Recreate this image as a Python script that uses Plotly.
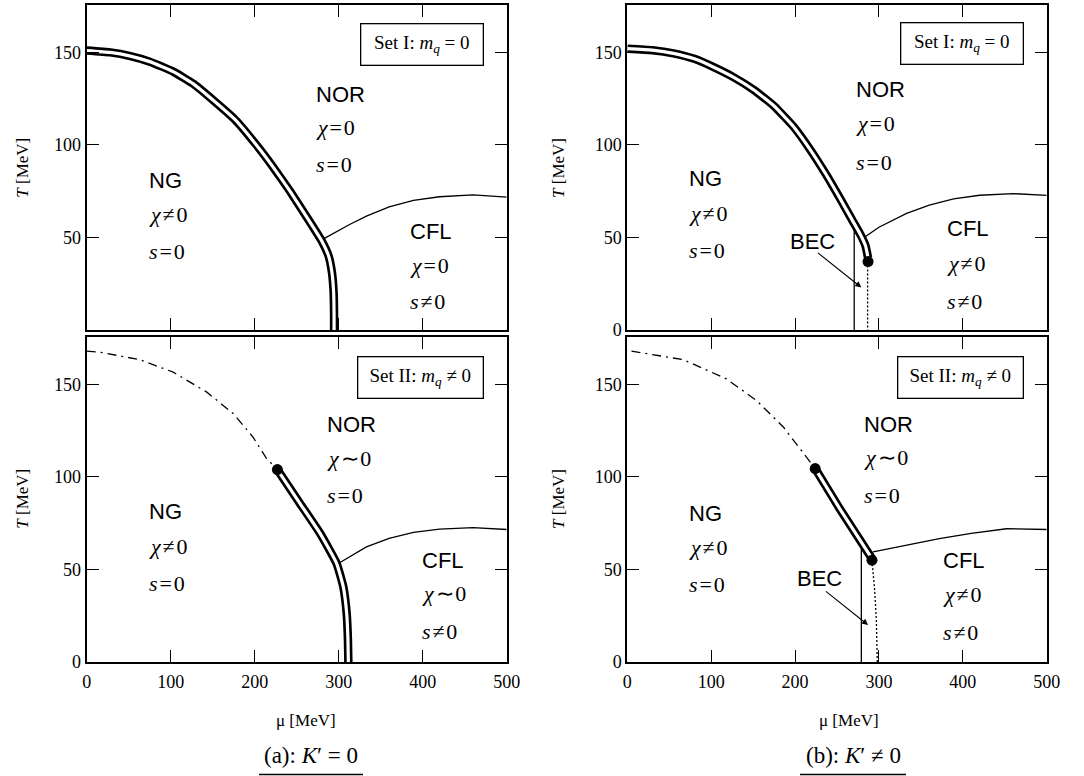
import plotly.graph_objects as go

# ---------------- data ----------------
# (a) K'=0, Set I : first-order line and NOR/CFL boundary
mu_a1_first = [0, 28, 52, 75, 103, 127, 151, 177, 202, 222, 242, 262, 280, 288, 292, 294, 294.5, 294.5]
T_a1_first = [151, 150, 148, 145, 139.6, 133, 124, 113.5, 100, 88, 75, 61, 48, 40, 31, 20, 8, 0]
mu_a1_cfl = [283, 313, 333, 360, 389, 420, 460, 500]
T_a1_cfl = [49.5, 57, 61.5, 66.5, 70, 72, 73, 71.8]

# (b) K'!=0, Set I
mu_b1_first = [0, 30, 55, 80, 103, 127, 151, 175, 198, 218, 237, 255, 268, 278, 284, 287]
T_b1_first = [152, 151.2, 149.5, 146.5, 142, 136.5, 129.7, 121, 110, 97.5, 84, 70, 59.5, 51.5, 45.5, 39]
mu_b1_cfl = [284, 300, 333, 360, 389, 420, 460, 500]
T_b1_cfl = [50.5, 55.5, 63, 67.5, 70.8, 72.8, 73.7, 72.7]
mu_b1_end = [287]
T_b1_end = [37]
mu_b1_bec = [270.5, 270.5]
T_b1_bec = [0, 56]
mu_b1_dot = [286.5, 286.5]
T_b1_dot = [37, 0]

# (a) K'=0, Set II
mu_a2_cross = [0, 16, 63.5, 103, 143, 175, 198, 214, 227]
T_a2_cross = [168, 167.4, 163.3, 156.6, 145.8, 134, 121.5, 110, 104]
mu_a2_first = [227, 254, 278, 297.6, 305.5, 309.5, 311, 311.5]
T_a2_first = [104, 85.6, 69.4, 53.2, 40.6, 26.3, 12, 0]
mu_a2_cfl = [299.6, 333, 360, 389, 420, 460, 500]
T_a2_cfl = [53.2, 62.2, 66.8, 70, 71.8, 72.6, 71.6]
mu_a2_end = [227]
T_a2_end = [104]

# (b) K'!=0, Set II
mu_b2_cross = [5, 67, 118, 154, 186, 213.5, 224]
T_b2_cross = [168, 163.3, 153, 141.3, 127, 110.7, 104.5]
mu_b2_first = [224, 253, 291.5]
T_b2_first = [104.5, 83, 56]
mu_b2_cfl = [293, 333, 372, 410, 452, 500]
T_b2_cfl = [59.5, 63.3, 66.7, 69.5, 72, 71.6]
mu_b2_end = [224, 291.7]
T_b2_end = [104.5, 55]
mu_b2_bec = [279, 279]
T_b2_bec = [0, 61]
mu_b2_dot = [291.7, 294.9, 296.9, 298]
T_b2_dot = [55, 38.8, 22.7, 0]

x_ticks = [0, 100, 200, 300, 400, 500]
y_ticks = [0, 50, 100, 150]
y_ticks_first = [50, 100, 150]

# ---------------- layout helpers ----------------
W, H = 1084, 776
def px(x):
    return x / W
def py(y):
    return 1 - y / H

SERIF = "Liberation Serif"
SANS = "Liberation Sans"

fig = go.Figure()

def axn(i):
    return ("x" if i == 1 else f"x{i}"), ("y" if i == 1 else f"y{i}")

def thin(i, mu, T, dash="solid", width=1.3):
    xa, ya = axn(i)
    fig.add_trace(go.Scatter(x=mu, y=T, mode="lines", xaxis=xa, yaxis=ya,
                             line=dict(color="black", width=width, dash=dash),
                             showlegend=False, hoverinfo="skip"))

def double(i, mu, T):
    xa, ya = axn(i)
    fig.add_trace(go.Scatter(x=mu, y=T, mode="lines", xaxis=xa, yaxis=ya,
                             line=dict(color="black", width=8.5, shape="spline", smoothing=0.4),
                             showlegend=False, hoverinfo="skip"))
    fig.add_trace(go.Scatter(x=mu, y=T, mode="lines", xaxis=xa, yaxis=ya,
                             line=dict(color="white", width=3.2, shape="spline", smoothing=0.4),
                             showlegend=False, hoverinfo="skip"))

def dots(i, mu, T):
    xa, ya = axn(i)
    fig.add_trace(go.Scatter(x=mu, y=T, mode="markers", xaxis=xa, yaxis=ya,
                             marker=dict(color="black", size=11),
                             showlegend=False, hoverinfo="skip"))

DASHDOT = "9px,5px,2px,5px"

# panel 1: top-left
double(1, mu_a1_first, T_a1_first)
thin(1, mu_a1_cfl, T_a1_cfl)
# panel 2: top-right
thin(2, mu_b1_bec, T_b1_bec)
thin(2, mu_b1_dot, T_b1_dot, dash="2px,2px", width=1.3)
double(2, mu_b1_first, T_b1_first)
thin(2, mu_b1_cfl, T_b1_cfl)
dots(2, mu_b1_end, T_b1_end)
# panel 3: bottom-left
thin(3, mu_a2_cross, T_a2_cross, dash=DASHDOT, width=1.3)
double(3, mu_a2_first, T_a2_first)
thin(3, mu_a2_cfl, T_a2_cfl)
dots(3, mu_a2_end, T_a2_end)
# panel 4: bottom-right
thin(4, mu_b2_cross, T_b2_cross, dash=DASHDOT, width=1.3)
thin(4, mu_b2_bec, T_b2_bec)
thin(4, mu_b2_dot, T_b2_dot, dash="2px,2px", width=1.3)
double(4, mu_b2_first, T_b2_first)
thin(4, mu_b2_cfl, T_b2_cfl)
dots(4, mu_b2_end, T_b2_end)

XL = [86.7, 506.7]
XR = [627.3, 1046.7]
YT = [5, 330]
YB = [337, 662]
YMAX = 175.6

def xaxis(dom, labels, anchor):
    return dict(domain=[px(dom[0]), px(dom[1])], range=[0, 500], tickvals=x_ticks,
                showticklabels=labels, ticks="inside", ticklen=12, tickwidth=1.2,
                tickcolor="black", showline=True, linecolor="black", linewidth=2,
                mirror="ticks", showgrid=False, zeroline=False, automargin=False,
                anchor=anchor,
                tickfont=dict(family=SERIF, size=18, color="black"),
                ticklabelstandoff=2)

def yaxis(dom, anchor, vals):
    return dict(domain=[py(dom[1]), py(dom[0])], range=[0, YMAX], tickvals=vals,
                ticks="inside", ticklen=12, tickwidth=1.2, tickcolor="black",
                showline=True, linecolor="black", linewidth=2, mirror="ticks",
                showgrid=False, zeroline=False, anchor=anchor, automargin=False,
                tickfont=dict(family=SERIF, size=18, color="black"))

fig.update_layout(
    template="none",
    width=W, height=H, margin=dict(l=0, r=0, t=0, b=0, pad=0),
    paper_bgcolor="white", plot_bgcolor="white", showlegend=False,
    xaxis=xaxis(XL, False, "y"),
    yaxis=yaxis(YT, "x", y_ticks_first),
    xaxis2=xaxis(XR, False, "y2"),
    yaxis2=yaxis(YT, "x2", y_ticks),
    xaxis3=xaxis(XL, True, "y3"),
    yaxis3=yaxis(YB, "x3", y_ticks),
    xaxis4=xaxis(XR, True, "y4"),
    yaxis4=yaxis(YB, "x4", y_ticks),
)

ann = []

def lab(i, x, y, text, sans=False, size=22):
    xa, ya = axn(i)
    ann.append(dict(x=x, y=y, xref=xa, yref=ya, text=text, showarrow=False,
                    xanchor="left", yanchor="middle",
                    font=dict(family=SANS if sans else SERIF, size=size, color="black")))

HS = "\u200a"
CHI_EQ = f"<i>χ</i>{HS}={HS}0"
CHI_NE = f"<i>χ</i>{HS}≠{HS}0"
CHI_SIM = f"<i>χ</i>{HS}∼{HS}0"
S_EQ = f"<i>s</i>{HS}={HS}0"
S_NE = f"<i>s</i>{HS}≠{HS}0"

# panel 1
lab(1, 270, 127.4, "NOR", True); lab(1, 270, 109.4, CHI_EQ); lab(1, 270, 89.2, S_EQ)
lab(1, 71.3, 81, "NG", True); lab(1, 71.3, 62.2, CHI_NE); lab(1, 71.3, 42.3, S_EQ)
lab(1, 382.8, 53.1, "CFL", True); lab(1, 382.8, 35.1, CHI_EQ); lab(1, 382.8, 15.3, S_NE)
# panel 2
lab(2, 270, 130, "NOR", True); lab(2, 270, 111.4, CHI_EQ); lab(2, 270, 90.6, S_EQ)
lab(2, 70.7, 81.6, "NG", True); lab(2, 70.7, 63, CHI_NE); lab(2, 70.7, 43.2, S_EQ)
lab(2, 378.2, 55, "CFL", True); lab(2, 378.2, 36, CHI_NE); lab(2, 378.2, 15.3, S_NE)
# panel 3
lab(3, 283.7, 128.2, "NOR", True); lab(3, 283.7, 109.9, CHI_SIM); lab(3, 283.7, 90.1, S_EQ)
lab(3, 71.3, 81.1, "NG", True); lab(3, 71.3, 62.6, CHI_NE); lab(3, 71.3, 42.4, S_EQ)
lab(3, 396.8, 55, "CFL", True); lab(3, 396.8, 37, CHI_SIM); lab(3, 396.8, 16.3, S_NE)
# panel 4
lab(4, 279.8, 128.2, "NOR", True); lab(4, 279.8, 110.3, CHI_SIM); lab(4, 279.8, 90, S_EQ)
lab(4, 70.7, 80.5, "NG", True); lab(4, 70.7, 62, CHI_NE); lab(4, 70.7, 42, S_EQ)
lab(4, 374.3, 55, "CFL", True); lab(4, 374.3, 36.4, CHI_NE); lab(4, 374.3, 15.7, S_NE)

# BEC labels with arrows
for i, tx, ty, hx, hy, ax_, ay_ in [(2, 221, 47.7, 279, 23, 225.5, 42.3),
                                     (4, 229.4, 45.1, 287, 20, 235, 38.8)]:
    xa, ya = axn(i)
    ann.append(dict(x=tx, y=ty, xref=xa, yref=ya, text="BEC", showarrow=False,
                    xanchor="center", yanchor="middle",
                    font=dict(family=SANS, size=22, color="black")))
    ann.append(dict(x=hx, y=hy, xref=xa, yref=ya, ax=ax_, ay=ay_, axref=xa, ayref=ya,
                    text="", showarrow=True, arrowhead=2, arrowsize=1.1,
                    arrowwidth=1.1, arrowcolor="black"))

# parameter boxes
for i, txt, top in [(1, "Set I: <i>m</i><sub><i>q</i></sub> = 0", 165.8),
                    (2, "Set I: <i>m</i><sub><i>q</i></sub> = 0", 166.6),
                    (3, "Set II: <i>m</i><sub><i>q</i></sub> ≠ 0", 165.6),
                    (4, "Set II: <i>m</i><sub><i>q</i></sub> ≠ 0", 165.6)]:
    xa, ya = axn(i)
    w = 119 if i <= 2 else 122
    ann.append(dict(x=473.3, y=top, xref=xa, yref=ya, text=txt, showarrow=False,
                    xanchor="right", yanchor="top", width=w, height=38,
                    borderpad=1, bordercolor="black", borderwidth=1.3,
                    bgcolor="white", align="center", valign="middle",
                    font=dict(family=SERIF, size=19, color="black")))

# axis titles
for xc in [21.7, 558]:
    for yc in [168, 499]:
        ann.append(dict(x=px(xc), y=py(yc), xref="paper", yref="paper",
                        text="<i>T</i> [MeV]", textangle=-90, showarrow=False,
                        xanchor="center", yanchor="middle",
                        font=dict(family=SERIF, size=17, color="black")))
for xc in [306, 849]:
    ann.append(dict(x=px(xc), y=py(720), xref="paper", yref="paper",
                    text="μ [MeV]", showarrow=False, xanchor="center", yanchor="middle",
                    font=dict(family=SERIF, size=17, color="black")))

# captions
for xc, txt in [(311, "(a): <i>K</i>′ = 0"), (853.7, "(b): <i>K</i>′ ≠ 0")]:
    ann.append(dict(x=px(xc), y=py(755), xref="paper", yref="paper",
                    text=txt, showarrow=False, xanchor="center", yanchor="middle",
                    font=dict(family=SERIF, size=23, color="black")))

fig.update_layout(annotations=ann)

shapes = []
for x0, x1 in [(259, 363), (800, 906)]:
    shapes.append(dict(type="line", xref="paper", yref="paper",
                       x0=px(x0), x1=px(x1), y0=py(774.5), y1=py(774.5),
                       line=dict(color="black", width=1.5)))
fig.update_layout(shapes=shapes)

# remove the default 8px page margin so the figure sits at the window origin
fig.write_html("out.html", config={"displayModeBar": False},
               post_script="document.body.style.margin='0px';document.body.style.overflow='hidden';")
